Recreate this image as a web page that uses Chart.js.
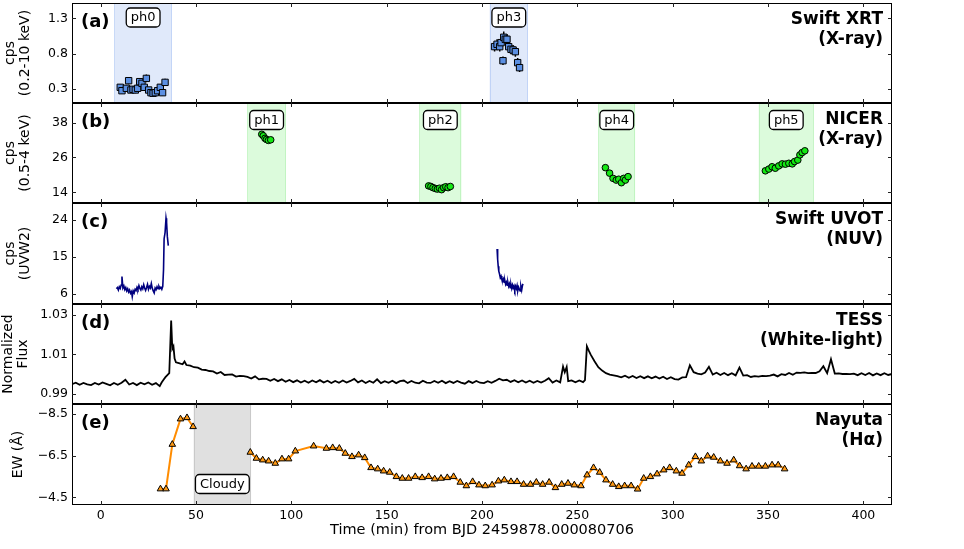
<!DOCTYPE html>
<html>
<head>
<meta charset="utf-8">
<title>Multi-band flare light curves</title>
<script src="https://cdn.jsdelivr.net/npm/chart.js@4.4.1/dist/chart.umd.min.js"></script>
<style>
  html, body { margin: 0; padding: 0; background: #fff; }
  #wrap { position: relative; width: 964px; height: 549px; overflow: hidden; background: #fff; }
  #wrap canvas { position: absolute; left: 0; }
</style>
</head>
<body>
<div id="wrap">
  <canvas id="pa" width="964" height="112" style="top:-3px"></canvas>
  <canvas id="pb" width="964" height="112" style="top:97px"></canvas>
  <canvas id="pc" width="964" height="113" style="top:197px"></canvas>
  <canvas id="pd" width="964" height="112" style="top:298px"></canvas>
  <canvas id="pe" width="964" height="151" style="top:398px"></canvas>
</div>
<script>
// ---- shared x axis ----
const xTicks = [0, 50, 100, 150, 200, 250, 300, 350, 400];
const xTitle = 'Time (min) from BJD 2459878.000080706';

// ---- (a) Swift XRT ----
const xrtTime = [10.3, 11.2, 13.5, 14.7, 15.9, 17.0, 18.2, 19.4, 20.5, 21.7,
                 22.9, 24.0, 25.2, 26.4, 27.5, 28.7, 29.9, 31.3, 32.5, 33.8,
                 206.6, 207.9, 209.3, 210.0, 211.0, 211.4, 212.2, 213.1, 214.0, 215.2,
                 216.3, 217.5, 218.7, 219.7];
const xrtRate = [0.324, 0.276, 0.31, 0.418, 0.286, 0.296, 0.286, 0.31, 0.404, 0.38,
                 0.324, 0.45, 0.286, 0.248, 0.24, 0.248, 0.276, 0.324, 0.248, 0.394,
                 0.90, 0.933, 0.899, 0.956, 0.70, 1.032, 1.004, 1.004, 0.899, 0.862,
                 0.852, 0.828, 0.673, 0.602];
const xrtErr  = [0.04, 0.04, 0.045, 0.05, 0.04, 0.04, 0.045, 0.04, 0.05, 0.05,
                 0.045, 0.055, 0.04, 0.04, 0.04, 0.04, 0.045, 0.045, 0.04, 0.05,
                 0.07, 0.07, 0.07, 0.075, 0.06, 0.08, 0.075, 0.075, 0.07, 0.07,
                 0.07, 0.07, 0.065, 0.06];
const xrtSpans  = [[7.2, 37.4], [204.0, 224.1]];
const xrtPhases = ['ph0', 'ph3'];
const xrtYTicks = [0.3, 0.8, 1.3];

// ---- (b) NICER ----
const nicerTime = [84.5, 85.3, 86.2, 87.0, 88.0, 89.2,
                   172.0, 173.2, 174.3, 175.5, 176.6, 177.7, 178.8, 179.9, 181.0, 182.2, 183.4,
                   264.7, 266.9, 268.7, 270.4, 271.7, 273.1, 274.3, 275.2, 276.6,
                   348.6, 350.4, 352.1, 353.8, 355.6, 357.4, 359.1, 360.9, 362.7, 363.9,
                   365.6, 366.7, 367.9, 369.3];
const nicerRate = [34.0, 33.5, 32.6, 32.2, 31.9, 32.1,
                   16.2, 16.0, 15.6, 15.3, 15.1, 15.4, 14.9, 15.6, 15.9, 15.6, 16.0,
                   22.5, 20.6, 18.8, 18.2, 18.5, 17.3, 18.8, 18.2, 19.4,
                   21.4, 22.0, 22.8, 22.3, 23.1, 23.8, 23.7, 24.0, 23.8, 24.6,
                   25.1, 26.9, 27.7, 28.3];
const nicerSpans  = [[76.9, 97.2], [167.1, 189.2], [261.0, 280.3], [345.1, 374.0]];
const nicerPhases = ['ph1', 'ph2', 'ph4', 'ph5'];
const nicerYTicks = [14, 26, 38];

// ---- (c) Swift UVOT ----
const uvotTime1 = [8.3, 8.8, 9.3, 9.8, 10.3, 10.8, 11.2, 11.7, 12.2, 12.7,
                   13.2, 13.7, 14.2, 14.7, 15.2, 15.7, 16.2, 16.6, 17.1, 17.6,
                   18.1, 18.6, 19.1, 19.6, 20.1, 20.6, 21.1, 21.6, 22.1, 22.6,
                   23.1, 23.6, 24.1, 24.6, 25.1, 25.6, 26.1, 26.6, 27.1, 27.6,
                   28.1, 28.6, 29.1, 29.6, 30.1, 30.6, 31.1, 31.6, 32.1, 32.6,
                   33.0, 33.3, 33.8, 34.3, 34.6, 35.0, 35.5];
const uvotRate1 = [7.3, 7.6, 7.0, 7.8, 7.4, 8.2, 10.3, 7.5, 8.0, 7.1,
                   7.6, 6.8, 7.3, 6.5, 7.0, 6.2, 6.6, 5.4, 6.8, 6.3,
                   7.2, 6.9, 7.7, 7.2, 8.1, 7.4, 7.0, 7.8, 7.3, 8.3,
                   7.5, 6.9, 7.6, 8.4, 7.2, 7.9, 7.5, 8.6, 7.4, 6.8,
                   6.3, 7.5, 7.1, 7.8, 7.3, 7.9, 7.4, 7.7, 7.2, 7.9,
                   12.0, 19.5, 21.0, 24.5, 23.5, 20.0, 17.8];
const uvotTime2 = [207.9, 208.2, 208.5, 208.8, 209.2, 209.6, 210.0, 210.4, 210.8, 211.2,
                   211.6, 212.0, 212.4, 212.8, 213.2, 213.6, 214.0, 214.4, 214.8, 215.2,
                   215.6, 216.0, 216.4, 216.8, 217.2, 217.6, 218.0, 218.4, 218.8, 219.2,
                   219.6, 220.0, 220.4, 220.8, 221.2, 221.5];
const uvotRate2 = [17.0, 14.5, 12.8, 11.6, 10.9, 10.0, 10.4, 9.6, 9.2, 9.7,
                   8.9, 9.3, 8.4, 8.9, 8.2, 8.8, 7.9, 8.5, 7.6, 8.3,
                   7.4, 8.2, 7.5, 8.0, 7.1, 7.9, 7.3, 8.1, 6.9, 7.7,
                   7.2, 6.8, 7.9, 7.0, 8.1, 8.5];
const uvotYTicks = [6, 15, 24];

// ---- (d) TESS ----
const tessTime = [-15, -13, -11, -9, -7, -5, -3, -1, 1, 3,
                  5, 7, 9, 11, 13, 15, 17, 19, 21, 23,
                  25, 27, 29, 31, 32, 33, 34, 35, 36, 37,
                  37.6, 38.2, 38.8, 39.5, 41, 43, 44, 45, 47, 49,
                  51, 53, 55, 57, 59, 61, 63, 65, 67, 69,
                  71, 73, 75, 77, 79, 81, 83, 85, 87, 89,
                  91, 93, 95, 97, 99, 101, 103, 105, 107, 109,
                  111, 113, 115, 117, 119, 121, 123, 125, 127, 129,
                  131, 133, 135, 137, 139, 141, 143, 145, 147, 149,
                  151, 153, 155, 157, 159, 161, 163, 165, 167, 169,
                  171, 173, 175, 177, 179, 181, 183, 185, 187, 189,
                  191, 193, 195, 197, 199, 201, 203, 205, 207, 209,
                  211, 213, 215, 217, 219, 221, 223, 225, 227, 229,
                  231, 233, 235, 237, 239, 241, 242.5, 243.4, 244.4, 245.2,
                  247, 249, 251, 253, 254, 255, 256, 257, 259, 261,
                  263, 265, 267, 269, 271, 273, 275, 277, 279, 281,
                  283, 285, 287, 289, 291, 293, 295, 297, 299, 301,
                  303, 305, 307, 309, 311, 313, 315, 317, 319, 321,
                  323, 325, 327, 329, 331, 333, 335, 337, 339, 341,
                  343, 345, 347, 349, 351, 353, 355, 357, 359, 361,
                  363, 365, 367, 369, 371, 373, 375, 377, 379, 381,
                  383, 385, 387, 389, 391, 393, 395, 397, 399, 401,
                  403, 405, 407, 409, 411, 413, 415];
const tessFlux = [0.9950, 0.9957, 0.9947, 0.9956, 0.9949, 0.9945, 0.9956, 0.9948, 0.9958, 0.9951,
                  0.9944, 0.9956, 0.9947, 0.9957, 0.9972, 0.9948, 0.9956, 0.9945, 0.9957, 0.9949,
                  0.9958, 0.9947, 0.9955, 0.9940, 0.9958, 0.9972, 0.9985, 0.9995, 1.0005, 1.0270,
                  1.0128, 1.0140, 1.0078, 1.0060, 1.0056, 1.0050, 1.0064, 1.0046, 1.0043, 1.0035,
                  1.0033, 1.0023, 1.0021, 1.0016, 1.0014, 1.0003, 1.0011, 0.9996, 0.9998, 0.9999,
                  0.9988, 0.9991, 0.9990, 0.9986, 0.9978, 0.9989, 0.9974, 0.9977, 0.9976, 0.9967,
                  0.9976, 0.9965, 0.9974, 0.9962, 0.9971, 0.9960, 0.9969, 0.9958, 0.9967, 0.9957,
                  0.9968, 0.9959, 0.9970, 0.9958, 0.9967, 0.9956, 0.9966, 0.9957, 0.9968, 0.9958,
                  0.9966, 0.9976, 0.9959, 0.9968, 0.9956, 0.9966, 0.9957, 0.9974, 0.9955, 0.9965,
                  0.9957, 0.9967, 0.9955, 0.9965, 0.9968, 0.9956, 0.9966, 0.9957, 0.9954, 0.9967,
                  0.9958, 0.9956, 0.9966, 0.9957, 0.9967, 0.9955, 0.9965, 0.9956, 0.9966, 0.9958,
                  0.9952, 0.9965, 0.9956, 0.9966, 0.9957, 0.9955, 0.9965, 0.9957, 0.9966, 0.9977,
                  0.9969, 0.9972, 0.9961, 0.9970, 0.9959, 0.9968, 0.9958, 0.9967, 0.9957, 0.9966,
                  0.9958, 0.9967, 0.9980, 0.9958, 0.9968, 0.9959, 1.0038, 1.0010, 1.0036, 0.9965,
                  0.9969, 0.9959, 0.9968, 0.9960, 0.9970, 1.0140, 1.0118, 1.0098, 1.0065, 1.0035,
                  1.0018, 1.0005, 0.9998, 0.9994, 0.9990, 0.9984, 0.9992, 0.9982, 0.9991, 0.9981,
                  0.9990, 0.9980, 0.9989, 0.9979, 0.9988, 0.9978, 0.9987, 0.9976, 0.9985, 0.9975,
                  0.9973, 0.9984, 0.9985, 1.0045, 1.0010, 1.0003, 0.9999, 1.0008, 1.0037, 0.9998,
                  1.0007, 0.9996, 1.0006, 0.9995, 1.0005, 0.9994, 1.0033, 0.9993, 0.9995, 0.9986,
                  0.9990, 0.9988, 0.9991, 0.9990, 0.9993, 0.9998, 0.9989, 1.0000, 0.9996, 1.0006,
                  0.9997, 1.0008, 1.0007, 1.0009, 1.0005, 1.0007, 1.0006, 1.0015, 1.0040, 1.0005,
                  1.0075, 1.0003, 1.0004, 1.0001, 1.0002, 1.0000, 1.0003, 0.9995, 1.0005, 0.9996,
                  1.0006, 0.9994, 1.0004, 0.9995, 1.0005, 0.9996, 1.0001];
const tessYTicks = [0.99, 1.01, 1.03];

// ---- (e) Nayuta H-alpha EW ----
const ewTime1 = [31.4, 34.3, 37.6, 41.9, 45.3, 48.5];
const ewVal1  = [-4.90, -4.90, -7.04, -8.26, -8.32, -7.89];
const ewTime2 = [78.5, 81.7, 85.0, 88.1, 91.6, 95.1, 98.6, 102.1, 111.7,
                 118.4, 121.7, 125.2, 128.3, 131.8, 135.3, 138.5, 141.8, 145.3, 148.4,
                 151.6, 155.1, 158.2, 161.5, 165.0, 168.6, 172.0, 175.2, 178.5, 181.8,
                 185.1, 188.6, 191.8, 195.1, 198.4, 201.7, 205.3, 208.6, 211.7, 215.2,
                 218.4, 221.8, 225.4, 228.5, 231.8, 235.2, 238.5, 241.8, 245.1, 248.4,
                 251.9, 255.1, 258.5, 261.7,
                 265.0, 268.5, 271.7, 274.8, 278.2, 281.6, 284.8, 288.3, 291.8, 295.3,
                 298.4, 301.9, 304.9, 308.4, 311.9, 315.0, 318.3, 321.5, 325.0, 328.5,
                 332.0, 335.1, 338.5, 341.6, 345.1, 348.6, 352.1, 355.3, 358.7];
const ewVal2  = [-6.66, -6.37, -6.29, -6.24, -6.13, -6.34, -6.34, -6.72, -6.96,
                 -6.85, -6.88, -6.85, -6.61, -6.45, -6.53, -6.40, -5.92, -5.86, -5.76,
                 -5.70, -5.49, -5.41, -5.41, -5.49, -5.44, -5.49, -5.38, -5.41, -5.44,
                 -5.49, -5.22, -5.05, -5.25, -5.09, -5.05, -5.09, -5.28, -5.33, -5.25,
                 -5.25, -5.12, -5.12, -5.22, -5.12, -5.22, -4.96, -5.12, -5.17, -5.09,
                 -5.05, -5.57, -5.92, -5.70,
                 -5.33, -5.12, -5.01, -5.05, -5.05, -4.89, -5.41, -5.49, -5.62, -5.81,
                 -5.92, -5.76, -5.65, -6.05, -6.45, -6.24, -6.48, -6.42, -6.24, -6.13,
                 -6.29, -6.01, -5.86, -5.99, -5.99, -5.99, -6.05, -6.05, -5.86];
const cloudySpans  = [[48.8, 78.9]];
const cloudyLabels = ['Cloudy'];
const ewYTicks = [-8.5, -6.5, -4.5];

// ---- helpers ----
const FONT = '"DejaVu Sans", "Liberation Sans", sans-serif';
Chart.defaults.font.family = FONT;
Chart.defaults.color = '#000';

const pts = (xs, ys) => xs.map((x, i) => ({ x, y: ys[i] }));
const minus = s => s.replace('-', '\u2212');

function boxPath(ctx, x, y, w, h, r) {
  ctx.beginPath();
  ctx.moveTo(x + r, y);
  ctx.arcTo(x + w, y, x + w, y + h, r);
  ctx.arcTo(x + w, y + h, x, y + h, r);
  ctx.arcTo(x, y + h, x, y, r);
  ctx.arcTo(x, y, x + w, y, r);
  ctx.closePath();
}

// no label overflow padding: the plot boxes are placed exactly by layout.padding
function noPad(s) {
  s.paddingTop = 0; s.paddingBottom = 0; s.paddingLeft = 0; s.paddingRight = 0;
}

// panel decorations: shaded phases, error bars, frame, inward ticks, texts
function deco(cfg) {
  return {
    id: 'deco',
    beforeDatasetsDraw(chart) {
      const { ctx, chartArea: a, scales: { x, y } } = chart;
      ctx.save();
      ctx.beginPath();
      ctx.rect(a.left, a.top, a.right - a.left, a.bottom - a.top);
      ctx.clip();
      (cfg.spans || []).forEach(s => {
        const x0 = x.getPixelForValue(s[0]), x1 = x.getPixelForValue(s[1]);
        ctx.fillStyle = cfg.spanColor;
        ctx.fillRect(x0, a.top, x1 - x0, a.bottom - a.top);
        ctx.strokeStyle = cfg.spanEdge;
        ctx.lineWidth = 1;
        ctx.beginPath();
        ctx.moveTo(Math.round(x0) + 0.5, a.top); ctx.lineTo(Math.round(x0) + 0.5, a.bottom);
        ctx.moveTo(Math.round(x1) - 0.5, a.top); ctx.lineTo(Math.round(x1) - 0.5, a.bottom);
        ctx.stroke();
      });
      if (cfg.err) {
        ctx.strokeStyle = '#000';
        ctx.lineWidth = 1.5;
        ctx.beginPath();
        cfg.err.t.forEach((t, i) => {
          const px = x.getPixelForValue(t);
          ctx.moveTo(px, y.getPixelForValue(cfg.err.v[i] - cfg.err.e[i]));
          ctx.lineTo(px, y.getPixelForValue(cfg.err.v[i] + cfg.err.e[i]));
        });
        ctx.stroke();
      }
      ctx.restore();
    },
    afterDraw(chart) {
      const { ctx, chartArea: a, scales: { x, y } } = chart;
      ctx.save();
      // frame
      ctx.strokeStyle = '#000';
      ctx.lineWidth = 1;
      ctx.strokeRect(a.left + 0.5, a.top + 0.5, a.right - a.left - 1, a.bottom - a.top - 1);
      // inward ticks on all four sides
      ctx.strokeStyle = '#222';
      ctx.beginPath();
      xTicks.forEach(v => {
        const px = Math.round(x.getPixelForValue(v)) + 0.5;
        ctx.moveTo(px, a.top); ctx.lineTo(px, a.top + 4);
        ctx.moveTo(px, a.bottom); ctx.lineTo(px, a.bottom - 4);
      });
      cfg.yTicks.forEach(v => {
        const py = Math.round(y.getPixelForValue(v)) + 0.5;
        ctx.moveTo(a.left, py); ctx.lineTo(a.left + 4, py);
        ctx.moveTo(a.right, py); ctx.lineTo(a.right - 4, py);
      });
      ctx.stroke();
      // panel letter
      ctx.fillStyle = '#000';
      ctx.font = 'bold 18px ' + FONT;
      ctx.textAlign = 'left';
      ctx.textBaseline = 'alphabetic';
      ctx.fillText(cfg.letter, a.left + 9, a.top + 23.5);
      // instrument label
      ctx.font = 'bold 17px ' + FONT;
      ctx.textAlign = 'right';
      cfg.right.forEach((s, i) => ctx.fillText(s, a.right - 9, a.top + 21 + i * 19.5));
      // phase / condition boxes
      ctx.font = '13px ' + FONT;
      ctx.textAlign = 'center';
      ctx.textBaseline = 'middle';
      (cfg.boxes || []).forEach((txt, i) => {
        const s = cfg.spans[i];
        const cx = x.getPixelForValue((s[0] + s[1]) / 2);
        const cy = a.top + cfg.boxY;
        const w = ctx.measureText(txt).width + 9, h = 19;
        boxPath(ctx, cx - w / 2, cy - h / 2, w, h, 4);
        ctx.fillStyle = '#fff';
        ctx.fill();
        ctx.lineWidth = 1.3;
        ctx.strokeStyle = '#000';
        ctx.stroke();
        ctx.fillStyle = '#000';
        ctx.fillText(txt, cx, cy + 0.5);
      });
      ctx.restore();
    }
  };
}

function panel(id, cfg) {
  const bottom = !!cfg.bottom;
  return new Chart(document.getElementById(id), {
    type: 'scatter',
    data: { datasets: cfg.datasets },
    options: {
      responsive: false,
      animation: false,
      events: [],
      layout: { padding: { top: 6, right: 72, bottom: bottom ? 0 : 6, left: 0 } },
      plugins: { legend: { display: false }, tooltip: { enabled: false } },
      scales: {
        x: {
          type: 'linear', min: -15, max: 415,
          display: bottom,
          grid: { display: false, drawTicks: false },
          border: { display: false },
          afterBuildTicks: s => { s.ticks = xTicks.map(v => ({ value: v })); },
          afterFit: s => { s.height = bottom ? 44 : 0; noPad(s); },
          ticks: { padding: 3, autoSkip: false, maxRotation: 0, color: '#000',
                   font: { size: 12.5 }, callback: v => String(v) },
          title: { display: true, text: xTitle, color: '#000',
                   font: { size: 14.5 }, padding: { top: 0, bottom: 10 } }
        },
        y: {
          type: 'linear', min: cfg.yMin, max: cfg.yMax, reverse: !!cfg.reverse,
          grid: { display: false, drawTicks: false },
          border: { display: false },
          afterBuildTicks: s => { s.ticks = cfg.yTicks.map(v => ({ value: v })); },
          afterFit: s => { s.width = 72; noPad(s); },
          ticks: { padding: 4, color: '#000', font: { size: 12.5 }, callback: cfg.fmt },
          title: { display: true, text: cfg.yTitle, color: '#000',
                   font: { size: 14, lineHeight: 1.05 }, padding: { top: cfg.titlePad, bottom: 0 } }
        }
      }
    },
    plugins: [deco(cfg)]
  });
}

// ---- build the five panels ----
panel('pa', {
  datasets: [{
    data: pts(xrtTime, xrtRate), pointStyle: 'rect', pointRadius: 4.5,
    backgroundColor: '#5b8fe2', borderColor: '#000', borderWidth: 1
  }],
  yMin: 0.102, yMax: 1.517, yTicks: xrtYTicks, fmt: v => v.toFixed(1),
  yTitle: ['cps', '(0.2-10 keV)'], titlePad: 3,
  letter: '(a)', right: ['Swift XRT', '(X-ray)'],
  spans: xrtSpans, spanColor: 'rgb(224,233,250)', spanEdge: 'rgba(100,149,237,0.25)',
  boxes: xrtPhases, boxY: 14.5,
  err: { t: xrtTime, v: xrtRate, e: xrtErr }
});

panel('pb', {
  datasets: [{
    data: pts(nicerTime, nicerRate), pointStyle: 'circle', pointRadius: 3.3,
    backgroundColor: '#14e814', borderColor: '#000', borderWidth: 1
  }],
  yMin: 10.3, yMax: 44.8, yTicks: nicerYTicks, fmt: v => String(v),
  yTitle: ['cps', '(0.5-4 keV)'], titlePad: 3,
  letter: '(b)', right: ['NICER', '(X-ray)'],
  spans: nicerSpans, spanColor: 'rgb(220,251,220)', spanEdge: 'rgba(0,200,0,0.12)',
  boxes: nicerPhases, boxY: 17
});

panel('pc', {
  datasets: [
    { data: pts(uvotTime1, uvotRate1), showLine: true, pointRadius: 0,
      borderColor: '#00007f', borderWidth: 1.6, tension: 0 },
    { data: pts(uvotTime2, uvotRate2), showLine: true, pointRadius: 0,
      borderColor: '#00007f', borderWidth: 1.6, tension: 0 }
  ],
  yMin: 3.6, yMax: 28.2, yTicks: uvotYTicks, fmt: v => String(v),
  yTitle: ['cps', '(UVW2)'], titlePad: 3,
  letter: '(c)', right: ['Swift UVOT', '(NUV)']
});

panel('pd', {
  datasets: [
    { data: pts(tessTime, tessFlux), showLine: true, pointRadius: 0,
      borderColor: '#000', borderWidth: 1.8, tension: 0 }
  ],
  yMin: 0.985, yMax: 1.0353, yTicks: tessYTicks, fmt: v => v.toFixed(2),
  yTitle: ['Normalized', 'Flux'], titlePad: 1,
  letter: '(d)', right: ['TESS', '(White-light)']
});

panel('pe', {
  bottom: true,
  datasets: [
    { data: pts(ewTime1, ewVal1), showLine: true, pointStyle: 'triangle', pointRadius: 3.8,
      borderColor: '#ff8c00', borderWidth: 2, pointBackgroundColor: '#ff9a14',
      pointBorderColor: '#000', pointBorderWidth: 1, tension: 0 },
    { data: pts(ewTime2, ewVal2), showLine: true, pointStyle: 'triangle', pointRadius: 3.8,
      borderColor: '#ff8c00', borderWidth: 2, pointBackgroundColor: '#ff9a14',
      pointBorderColor: '#000', pointBorderWidth: 1, tension: 0 }
  ],
  yMin: -8.98, yMax: -4.13, reverse: true, yTicks: ewYTicks, fmt: v => minus(v.toFixed(1)),
  yTitle: 'EW (\u00c5)', titlePad: 11,
  letter: '(e)', right: ['Nayuta', '(H\u03b1)'],
  spans: cloudySpans, spanColor: 'rgb(224,224,224)', spanEdge: 'rgba(150,150,150,0.3)',
  boxes: cloudyLabels, boxY: 80
});
</script>
</body>
</html>
